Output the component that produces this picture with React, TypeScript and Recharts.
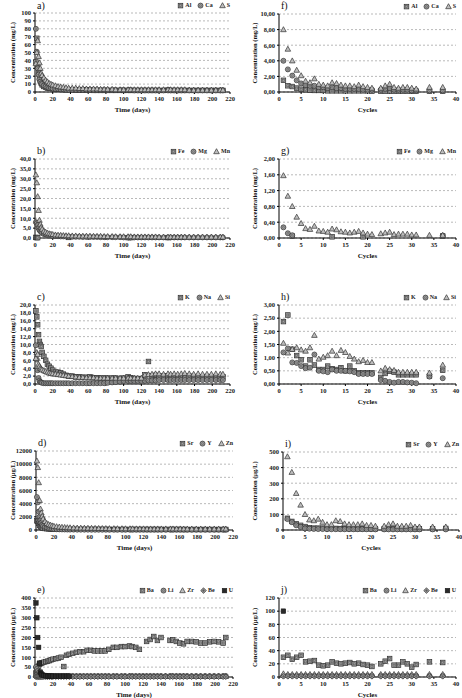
import React from "react";
import { ScatterChart, Scatter, XAxis, YAxis, CartesianGrid } from "recharts";

// sampling times (days) for the left column, cycles for the right column
const days = [
  1, 2, 3, 4, 5, 6, 7, 8, 10, 12,
  14, 16, 18, 20, 23, 26, 29, 32, 35, 38,
  42, 46, 50, 54, 58, 62, 66, 70, 74, 78,
  82, 87, 91, 96, 100, 105, 108, 112, 116, 120,
  124, 128, 132, 136, 140, 145, 150, 153, 157, 161,
  165, 169, 174, 179, 184, 189, 194, 199, 204, 209,
  212,
];
const cycles = [
  1, 2, 3, 4, 5, 6, 7, 8, 9, 10,
  11, 12, 13, 14, 15, 16, 17, 18, 19, 20,
  21, 23, 24, 25, 26, 27, 28, 29, 30, 31,
  34, 37,
];

const timeTicks = [0, 20, 40, 60, 80, 100, 120, 140, 160, 180, 200, 220];
const cycleTicks = [0, 5, 10, 15, 20, 25, 30, 35, 40];

const yTicksA = [0, 10, 20, 30, 40, 50, 60, 70, 80, 90, 100];
const yTicksB = [0, 5, 10, 15, 20, 25, 30, 35, 40];
const yTicksC = [0, 2, 4, 6, 8, 10, 12, 14, 16, 18, 20];
const yTicksD = [0, 2000, 4000, 6000, 8000, 10000, 12000];
const yTicksE = [0, 50, 100, 150, 200, 250, 300, 350, 400];
const yTicksF = [0, 2, 4, 6, 8, 10];
const yTicksG = [0, 0.4, 0.8, 1.2, 1.6, 2.0];
const yTicksH = [0, 0.5, 1.0, 1.5, 2.0, 2.5, 3.0];
const yTicksI = [0, 100, 200, 300, 400, 500];
const yTicksJ = [0, 20, 40, 60, 80, 100, 120];

// a) mg/L vs days
const alA = [
  38, 68, 33, 25, 18, 14, 11, 9, 7, 6,
  5, 5, 4.5, 4, 4, 3.5, 3.5, 3, 3, 3,
  3, 2.5, 2.5, 2.5, 2.5, 2.5, 2, 2, 2, 2,
  2, 2, 2, 2, 2, 2, 2, 2, 2, 2,
  2, 2, 2, 2, 2, 2, 2.5, 2, 2, 2,
  2, 2, 2, 2, 2, 2, 2, 2, 2, 2,
  2,
];
const caA = [
  80, 51, 30, 22, 16, 13, 11, 10, 8, 7,
  6, 5, 5, 4.5, 4, 4, 3.5, 3.5, 3, 3,
  3, 3, 3, 3, 3, 2.5, 2.5, 2.5, 2.5, 2.5,
  2.5, 2.5, 2.5, 2.5, 2.5, 2.5, 2.5, 2, 2, 2,
  2, 2, 2, 2, 2, 2, 2, 2, 2, 2,
  2, 2, 2, 2, 2, 2, 2, 2, 2, 2,
  2,
];
const sA = [
  36, 50, 65, 45, 37, 30, 24, 21, 18, 15,
  13, 11, 10, 9, 8, 7, 6.5, 6, 5.5, 5,
  5, 5, 4.5, 4.5, 4, 4, 4, 4, 3.5, 3.5,
  3.5, 3.5, 3, 3, 3, 3, 3, 3, 3, 3,
  3, 3, 3, 3, 3, 3, 3, 3, 3, 3,
  3, 3, 2.5, 2.5, 2.5, 2.5, 2.5, 2.5, 2.5, 2.5,
  2.5,
];

// b) mg/L vs days
const feB = [
  0.3, 0.2, 0.2, null, null, null, null, null, null, null,
  null, null, null, null, null, null, null, null, null, 0.3,
  null, null, null, null, null, null, null, null, null, null,
  null, null, null, null, null, 0.2, 0.2, null, null, null,
  null, null, null, null, null, null, 0.2, null, null, null,
  null, null, null, null, null, null, null, null, null, null,
  null,
];
const mgB = [
  8, 7.5, 6.5, 5, 4, 3.5, 3, 2.5, 2, 1.8,
  1.5, 1.3, 1.2, 1, 1, 0.9, 0.8, 0.8, 0.7, 0.7,
  0.6, 0.6, 0.6, 0.5, 0.5, 0.5, 0.5, 0.5, 0.4, 0.4,
  0.4, 0.4, 0.4, 0.4, 0.3, 0.3, 0.3, 0.3, 0.3, 0.3,
  0.3, 0.3, 0.3, 0.3, 0.3, 0.3, 0.3, 0.3, 0.3, 0.3,
  0.3, 0.3, 0.3, 0.3, 0.3, 0.3, 0.3, 0.3, 0.3, 0.3,
  0.3,
];
const mnB = [
  32, 28, 21, 14, 9, 7, 5.5, 4.5, 3.5, 3,
  2.5, 2.2, 2, 1.8, 1.6, 1.5, 1.4, 1.3, 1.2, 1.2,
  1.1, 1.1, 1, 1, 1, 1, 0.9, 0.9, 0.9, 0.8,
  0.8, 0.8, 0.7, 0.7, 0.7, 0.7, 0.7, 0.6, 0.6, 0.6,
  0.6, 0.6, 0.6, 0.6, 0.5, 0.5, 0.5, 0.5, 0.5, 0.5,
  0.5, 0.5, 0.5, 0.5, 0.5, 0.5, 0.5, 0.5, 0.5, 0.5,
  0.5,
];

// c) mg/L vs days
const kC = [
  18.5, 17, 15, 12.5, 10.8, 10, 9.5, 8, 7, 6,
  5, 4.5, 4, 3.5, 3, 3, 2.8, 2.5, 2.2, 2,
  2, 1.8, 1.8, 1.7, 1.7, 1.8, 1.6, 1.6, 1.5, 1.5,
  1.5, 1.5, 1.5, 1.4, 1.5, 1.8, 1.6, 1.4, 1.2, 1.3,
  2.3, 5.7, 2.1, 2.2, 2, 2, 2.1, 2, 1.9, 1.8,
  1.9, 2, 2, 1.9, 1.8, 1.8, 1.9, 1.8, 1.8, 1.8,
  1.8,
];
const naC = [
  9.8, 6.2, 3.5, 1.5, 0.8, 0.5, 0.4, 0.3, 0.2, 0.2,
  0.2, 0.2, 0.2, 0.2, 0.2, 0.2, 0.2, 0.2, 0.2, 0.2,
  0.2, 0.2, 0.2, 0.2, 0.2, 0.2, 0.2, 0.2, 0.2, 0.2,
  0.3, 0.4, 0.5, 0.6, 0.8, 0.8, 0.8, 0.8, 0.8, 0.8,
  0.8, 0.9, 0.9, 0.9, 1, 1, 1, 1, 1, 1,
  1, 1, 1, 1, 1, 1, 1, 1, 1, 1,
  1,
];
const siC = [
  6.5, 8, 7.5, 5, 4.5, 4, 3.8, 3.6, 3.4, 3.2,
  3, 2.8, 2.7, 2.6, 2.5, 2.4, 2.3, 2.2, 2.1, 2,
  1.9, 1.8, 1.7, 1.7, 1.6, 1.6, 1.6, 1.5, 1.5, 1.5,
  1.5, 1.5, 1.5, 1.5, 1.5, 1.5, 1.5, 1.5, 1.5, 1.5,
  2.3, 2.4, 2.5, 2.6, 2.6, 2.5, 2.6, 2.5, 2.6, 2.5,
  2.6, 2.7, 2.6, 2.5, 2.6, 2.5, 2.5, 2.5, 2.6, 2.5,
  2.5,
];

// d) µg/L vs days
const srD = [
  1400, 1300, 1000, 700, 500, 400, 330, 280, 230, 200,
  180, 160, 150, 140, 130, 120, 110, 110, 100, 100,
  100, 100, 100, 100, 100, 100, 100, 100, 100, 100,
  90, 90, 90, 90, 90, 90, 90, 90, 90, 90,
  90, 90, 90, 90, 90, 90, 90, 90, 90, 90,
  80, 80, 80, 80, 80, 80, 80, 80, 80, 80,
  80,
];
const yD = [
  5000, 4200, 2800, 2000, 1500, 1100, 800, 600, 450, 350,
  280, 220, 180, 150, 120, 100, 90, 80, 70, 60,
  60, 50, 50, 50, 50, 40, 40, 40, 40, 40,
  40, 40, 40, 40, 40, 40, 40, 40, 40, 40,
  30, 30, 30, 30, 30, 30, 30, 30, 30, 30,
  30, 30, 30, 30, 30, 30, 30, 30, 30, 30,
  30,
];
const znD = [
  10500, 9500, 7200, 4500, 3200, 2600, 2100, 1700, 1300, 1000,
  850, 750, 650, 580, 520, 470, 430, 400, 370, 350,
  330, 310, 300, 290, 280, 270, 260, 250, 240, 230,
  220, 220, 210, 210, 200, 200, 200, 190, 190, 190,
  180, 180, 180, 180, 180, 180, 180, 180, 180, 180,
  170, 170, 170, 170, 170, 170, 170, 170, 170, 170,
  170,
];

// e) µg/L vs days
const baE = [
  20, 30, 45, 55, 65, 68, 70, 72, 75, 78,
  80, 83, 87, 90, 93, 96, 100, 53, 110, 115,
  120, 125, 128, 128, 135, 135, 132, 132, 132, 132,
  140, 150, 150, 154, 154, 157, 154, 150, 140, null,
  180, 190, 205, 185, 200, null, 185, 188, 180, 172,
  168, 180, 180, 178, 172, 172, 178, 180, 178, 172,
  200,
];
const liE = [
  50, 40, 30, 20, 12, 8, 6, 5, 5, 5,
  5, 5, 5, 5, 5, 5, 5, 5, 5, 5,
  5, 5, 5, 5, 5, 5, 5, 5, 5, 5,
  5, 5, 5, 5, 5, 5, 5, 5, 5, 5,
  5, 5, 5, 5, 5, 5, 5, 5, 5, 5,
  5, 5, 5, 5, 5, 5, 5, 5, 5, 5,
  5,
];
const zrE = [
  10, 8, 6, 5, 4, 3, 3, 3, 3, 3,
  3, 3, 3, 3, 3, 3, 3, 3, 3, 3,
  3, 3, 3, 3, 3, 3, 3, 3, 3, 3,
  3, 3, 3, 3, 3, 3, 3, 3, 3, 3,
  3, 3, 3, 3, 3, 3, 3, 3, 3, 3,
  3, 3, 3, 3, 3, 3, 3, 3, 3, 3,
  3,
];
const beE = [
  1, 1, 1, 1, 1, 1, 1, 1, 1, 1,
  1, 1, 1, 1, 1, 1, 1, 1, 1, 1,
  1, 1, 1, 1, 1, 1, 1, 1, 1, 1,
  1, 1, 1, 1, 1, 1, 1, 1, 1, 1,
  1, 1, 1, 1, 1, 1, 1, 1, 1, 1,
  1, 1, 1, 1, 1, 1, 1, 1, 1, 1,
  1,
];
const uE = [
  375, 300, 200, 150, 70, 25, 15, 10, 8, 6,
  4, 4, 4, 4, 4, 4, 4, 4, 4, 4,
];

// f) mg/L vs cycles
const alF = [
  1.5, 0.8, 0.7, 0.5, 0.35, 0.3, 0.25, 0.2, 0.2, 0.2,
  0.15, 0.15, 0.15, 0.15, 0.15, 0.15, 0.15, 0.15, 0.15, 0.15,
  0.1, 0.1, 0.1, 0.1, 0.1, 0.1, 0.1, 0.1, 0.1, 0.1,
  0.1, 0.1,
];
const caF = [
  4.0, 2.9, 2.1, 1.5, 1.1, 0.9, 0.8, 0.8, 0.6, 0.6,
  0.5, 0.6, 0.5, 0.5, 0.4, 0.4, 0.4, 0.4, 0.3, 0.3,
  0.3, 0.3, 0.4, 0.5, 0.3, 0.3, 0.3, 0.3, 0.2, 0.2,
  0.2, 0.2,
];
const sF = [
  8.0, 5.5, 4.0, 2.8, 2.1, 1.4, 1.2, 1.7, 1.0, 0.9,
  0.8, 1.2, 1.1, 0.9, 0.8, 0.8, 0.7, 0.9, 0.7, 0.6,
  0.5, 0.5, 0.8, 1.0, 0.6, 0.5, 0.6, 0.6, 0.5, 0.4,
  0.6, 0.6,
];

// g) mg/L vs cycles
const feG = [
  null, null, 0.05, null, null, null, null, null, null, null,
  null, 0.03, null, null, null, null, null, null, 0.03, null,
  null, null, null, null, null, null, null, null, null, null,
  null, 0.05,
];
const mgG = [
  0.27, 0.12, 0.07, null, null, null, null, null, null, null,
  null, null, null, null, null, null, null, null, null, null,
  null, null, null, null, null, null, null, null, null, null,
  null, 0.06,
];
const mnG = [
  1.58, 1.06, 0.8, 0.53, 0.37, 0.24, 0.22, 0.3, 0.18, 0.17,
  0.15, 0.23, 0.21, 0.16, 0.15, 0.13, 0.15, 0.17, 0.13, 0.1,
  0.09, 0.11, 0.13, 0.15, 0.09, 0.1, 0.1, 0.1, 0.08, 0.08,
  0.07, 0.07,
];

// h) mg/L vs cycles
const kH = [
  2.37, 2.62, 1.32, 1.08, 0.92, 0.68, 0.92, 0.72, 0.55, 0.55,
  0.68, 0.58, 0.55, 0.62, 0.5, 0.68, 0.5, 0.42, 0.42, 0.42,
  0.42, 0.25, 0.4, 0.48, 0.45, 0.35, 0.35, 0.35, 0.35, 0.35,
  0.3, 0.52,
];
const naH = [
  1.2, 1.35, 0.82, 0.8, 0.68, 0.6, 0.62, 1.12, 0.5, 0.48,
  0.45, 0.55, 0.5, 0.5, 0.5, 0.48, 0.45, 0.38, 0.38, 0.38,
  0.38, 0.15, 0.12, 0.08, 0.05, 0.08, 0.08, 0.06, 0.05, 0.03,
  0.28, 0.22,
];
const siH = [
  1.55, 1.18, 1.32, 1.38, 1.3, 1.25, 1.38, 1.85, 0.95, 1.02,
  1.08, 1.25, 1.08, 1.28, 1.2, 1.05, 0.95, 0.85, 0.9, 0.82,
  0.82, 0.5, 0.6, 0.55, 0.52, 0.45, 0.45, 0.45, 0.45, 0.45,
  0.42, 0.72,
];

// i) µg/L vs cycles
const srI = [
  75, 55, 40, 30, 22, 15, 12, 12, 12, 10,
  10, 10, 9, 9, 9, 8, 8, 8, 8, 8,
  8, 8, 9, 10, 8, 8, 8, 8, 7, 7,
  8, 10,
];
const yI = [
  70, 50, 30, 20, 10, 8, 7, 6, 6, 5,
  5, 5, 5, 5, 5, 5, 5, 5, 5, 5,
  4, 4, 4, 4, 4, 4, 4, 4, 4, 4,
  4, 4,
];
const znI = [
  470, 370, 235, 160, 100, 65, 60, 70, 50, 35,
  35, 60, 55, 40, 35, 35, 35, 40, 30, 30,
  25, 25, 35, 40, 25, 25, 25, 30, 20, 20,
  20, 20,
];

// j) µg/L vs cycles
const baJ = [
  30, 33, 27, 30, 33, 23, 24, 25, 18, 17,
  18, 23, 21, 20, 21, 22, 20, 21, 19, 18,
  16, 20, 24, 28, 18, 18, 23, 20, 15, 19,
  23, 22,
];
const liJ = [
  2, 2, 2, 2, 2, 2, 2, 2, 2, 2,
  2, 2, 2, 2, 2, 2, 2, 2, 2, 2,
  2, 2, 2, 2, 2, 2, 2, 2, 2, 2,
  2, 2,
];
const zrJ = [
  5, 4, 4, 4, 4, 4, 4, 4, 4, 4,
  4, 4, 4, 4, 4, 4, 4, 4, 4, 4,
  4, 4, 4, 4, 4, 4, 4, 4, 4, 4,
  4, 4,
];
const beJ = [
  1, 1, 1, 1, 1, 1, 1, 1, 1, 1,
  1, 1, 1, 1, 1, 1, 1, 1, 1, 1,
  1, 1, 1, 1, 1, 1, 1, 1, 1, 1,
  1, 1,
];
const uJ = [100];

const FONT = '"Liberation Serif", "DejaVu Serif", serif';

type Pt = { x: number; y: number };
type Kind = "square" | "circle" | "triangle" | "diamond" | "filled";
type Series = { name: string; kind: Kind; pts: Pt[] };

const toPts = (xs: number[], ys: (number | null)[]): Pt[] =>
  ys.flatMap((v, i) => (v == null ? [] : [{ x: xs[i], y: v }]));

function Mark({ cx, cy, kind }: { cx: number; cy: number; kind: Kind }) {
  if (cx == null || cy == null) return null;
  if (kind === "square")
    return (
      <g>
        <rect x={cx - 2.3} y={cy - 2.3} width={4.6} height={4.6} fill="#9c9c9c" stroke="#2e2e2e" strokeWidth={0.7} />
        <rect x={cx - 1} y={cy - 1} width={2} height={2} fill="none" stroke="#555" strokeWidth={0.5} />
      </g>
    );
  if (kind === "circle")
    return (
      <g>
        <circle cx={cx} cy={cy} r={2.5} fill="#9c9c9c" stroke="#2e2e2e" strokeWidth={0.7} />
        <circle cx={cx} cy={cy} r={1} fill="none" stroke="#555" strokeWidth={0.5} />
      </g>
    );
  if (kind === "triangle")
    return (
      <polygon
        points={`${cx},${cy - 2.9} ${cx + 2.8},${cy + 2.1} ${cx - 2.8},${cy + 2.1}`}
        fill="#bdbdbd"
        stroke="#333"
        strokeWidth={0.7}
      />
    );
  if (kind === "diamond")
    return (
      <g>
        <polygon
          points={`${cx},${cy - 2.8} ${cx + 2.8},${cy} ${cx},${cy + 2.8} ${cx - 2.8},${cy}`}
          fill="#9a9a9a"
          stroke="#333"
          strokeWidth={0.7}
        />
        <path d={`M${cx - 1.4},${cy}H${cx + 1.4}M${cx},${cy - 1.4}V${cy + 1.4}`} stroke="#333" strokeWidth={0.4} />
      </g>
    );
  return <rect x={cx - 2.3} y={cy - 2.3} width={4.6} height={4.6} fill="#2a2a2a" stroke="#111" strokeWidth={0.5} />;
}

function LegendIcon({ kind }: { kind: Kind }) {
  return (
    <svg width={7} height={7} style={{ display: "block", marginRight: 1 }}>
      <Mark cx={3.5} cy={3.6} kind={kind} />
    </svg>
  );
}

type PanelProps = {
  letter: string;
  left: number;
  top: number;
  width: number;
  height: number;
  mLeft: number;
  mRight: number;
  yWidth: number;
  labelOffset: number;
  xTicks: number[];
  xLabel: string;
  yTicks: number[];
  dec: number;
  yLabel: string;
  series: Series[];
};

const tickStyle = { fontSize: 6.5, fill: "#1a1a1a", fontFamily: FONT, fontWeight: "bold" as const };

function Panel(p: PanelProps) {
  const plotLeft = p.left + p.mLeft + p.yWidth;
  const plotRight = p.left + p.width - p.mRight;
  const plotTop = p.top + 13;
  const fmt = (v: number) => v.toFixed(p.dec).replace(".", ",");
  const xMax = p.xTicks[p.xTicks.length - 1];
  const yMax = p.yTicks[p.yTicks.length - 1];
  return (
    <>
      <div style={{ position: "absolute", left: p.left, top: p.top }}>
        <ScatterChart
          width={p.width}
          height={p.height}
          margin={{ top: 13, right: p.mRight, bottom: 2, left: p.mLeft }}
        >
          <CartesianGrid vertical={false} stroke="#8a8a8a" strokeDasharray="2 2" strokeWidth={0.6} />
          <XAxis
            type="number"
            dataKey="x"
            domain={[0, xMax]}
            ticks={p.xTicks}
            interval={0}
            height={20}
            tick={tickStyle}
            tickSize={2}
            tickLine={{ stroke: "#000" }}
            axisLine={{ stroke: "#000" }}
            label={{
              value: p.xLabel,
              position: "insideBottom",
              offset: 0,
              style: { fontSize: 7, fontFamily: FONT, fontWeight: "bold", fill: "#111" },
            }}
          />
          <YAxis
            type="number"
            dataKey="y"
            domain={[0, yMax]}
            ticks={p.yTicks}
            interval={0}
            width={p.yWidth}
            tick={tickStyle}
            tickSize={2}
            tickFormatter={fmt}
            tickLine={{ stroke: "#000" }}
            axisLine={{ stroke: "#000" }}
            label={{
              value: p.yLabel,
              angle: -90,
              position: "insideLeft",
              offset: p.labelOffset,
              style: { textAnchor: "middle", fontSize: 6.5, fontFamily: FONT, fontWeight: "bold", fill: "#111" },
            }}
          />
          {p.series.map((s) => (
            <Scatter
              key={s.name}
              name={s.name}
              data={s.pts}
              isAnimationActive={false}
              shape={(props: any) => <Mark cx={props.cx} cy={props.cy} kind={s.kind} />}
            />
          ))}
        </ScatterChart>
      </div>
      <div
        style={{
          position: "absolute",
          left: plotLeft + 2,
          top: Math.max(0, plotTop - 14),
          fontFamily: FONT,
          fontSize: 10,
          lineHeight: "11px",
          color: "#111",
        }}
      >
        {p.letter}
      </div>
      <div
        style={{
          position: "absolute",
          right: 462 - plotRight,
          top: plotTop - 12,
          display: "flex",
          alignItems: "center",
          gap: 6,
          fontFamily: FONT,
          fontSize: 6,
          fontWeight: "bold",
          lineHeight: "8px",
          color: "#222",
        }}
      >
        {p.series.map((s) => (
          <div key={s.name} style={{ display: "flex", alignItems: "center" }}>
            <LegendIcon kind={s.kind} />
            <span>{s.name}</span>
          </div>
        ))}
      </div>
    </>
  );
}

const mgL = "Concentration (mg/L)";
const ugL = "Concentration (µg/L)";

const L = { left: 0, width: 240, mLeft: 4, yWidth: 31, mRight: 10, labelOffset: 9, xTicks: timeTicks, xLabel: "Time (days)" };
const R = { left: 232, width: 230, mLeft: 2, yWidth: 45, mRight: 6, labelOffset: 21, xTicks: cycleTicks, xLabel: "Cycles" };

export default function App() {
  return (
    <div style={{ position: "absolute", left: 0, top: 0, width: 462, height: 698, background: "#fff", overflow: "hidden" }}>
      <Panel {...L} letter="a)" top={0} height={114} yTicks={yTicksA} dec={0} yLabel={mgL}
        series={[
          { name: "Al", kind: "square", pts: toPts(days, alA) },
          { name: "Ca", kind: "circle", pts: toPts(days, caA) },
          { name: "S", kind: "triangle", pts: toPts(days, sA) },
        ]} />
      <Panel {...L} letter="b)" top={146} height={114} yTicks={yTicksB} dec={1} yLabel={mgL}
        series={[
          { name: "Fe", kind: "square", pts: toPts(days, feB) },
          { name: "Mg", kind: "circle", pts: toPts(days, mgB) },
          { name: "Mn", kind: "triangle", pts: toPts(days, mnB) },
        ]} />
      <Panel {...L} letter="c)" top={292} height={114} yTicks={yTicksC} dec={1} yLabel={mgL}
        series={[
          { name: "K", kind: "square", pts: toPts(days, kC) },
          { name: "Na", kind: "circle", pts: toPts(days, naC) },
          { name: "Si", kind: "triangle", pts: toPts(days, siC) },
        ]} />
      <Panel {...L} letter="d)" top={438} height={114} yWidth={32} mRight={7} yTicks={yTicksD} dec={0} yLabel={ugL}
        series={[
          { name: "Sr", kind: "square", pts: toPts(days, srD) },
          { name: "Y", kind: "circle", pts: toPts(days, yD) },
          { name: "Zn", kind: "triangle", pts: toPts(days, znD) },
        ]} />
      <Panel {...L} letter="e)" top={585} height={114} mRight={7} yTicks={yTicksE} dec={0} yLabel={ugL}
        series={[
          { name: "Ba", kind: "square", pts: toPts(days, baE) },
          { name: "Li", kind: "circle", pts: toPts(days, liE) },
          { name: "Zr", kind: "triangle", pts: toPts(days, zrE) },
          { name: "Be", kind: "diamond", pts: toPts(days, beE) },
          { name: "U", kind: "filled", pts: toPts(days, uE) },
        ]} />

      <Panel {...R} letter="f)" top={1} height={113} yTicks={yTicksF} dec={2} yLabel={mgL}
        series={[
          { name: "Al", kind: "square", pts: toPts(cycles, alF) },
          { name: "Ca", kind: "circle", pts: toPts(cycles, caF) },
          { name: "S", kind: "triangle", pts: toPts(cycles, sF) },
        ]} />
      <Panel {...R} letter="g)" top={146} height={114} yTicks={yTicksG} dec={2} yLabel={mgL}
        series={[
          { name: "Fe", kind: "square", pts: toPts(cycles, feG) },
          { name: "Mg", kind: "circle", pts: toPts(cycles, mgG) },
          { name: "Mn", kind: "triangle", pts: toPts(cycles, mnG) },
        ]} />
      <Panel {...R} letter="h)" top={292} height={114} yTicks={yTicksH} dec={2} yLabel={mgL}
        series={[
          { name: "K", kind: "square", pts: toPts(cycles, kH) },
          { name: "Na", kind: "circle", pts: toPts(cycles, naH) },
          { name: "Si", kind: "triangle", pts: toPts(cycles, siH) },
        ]} />
      <Panel {...R} letter="i)" top={439} height={113} yWidth={49} mRight={3} yTicks={yTicksI} dec={0} yLabel={ugL}
        series={[
          { name: "Sr", kind: "square", pts: toPts(cycles, srI) },
          { name: "Y", kind: "circle", pts: toPts(cycles, yI) },
          { name: "Zn", kind: "triangle", pts: toPts(cycles, znI) },
        ]} />
      <Panel {...R} letter="j)" top={585} height={114} yTicks={yTicksJ} dec={0} yLabel={ugL}
        series={[
          { name: "Ba", kind: "square", pts: toPts(cycles, baJ) },
          { name: "Li", kind: "circle", pts: toPts(cycles, liJ) },
          { name: "Zr", kind: "triangle", pts: toPts(cycles, zrJ) },
          { name: "Be", kind: "diamond", pts: toPts(cycles, beJ) },
          { name: "U", kind: "filled", pts: toPts(cycles, uJ) },
        ]} />
    </div>
  );
}
